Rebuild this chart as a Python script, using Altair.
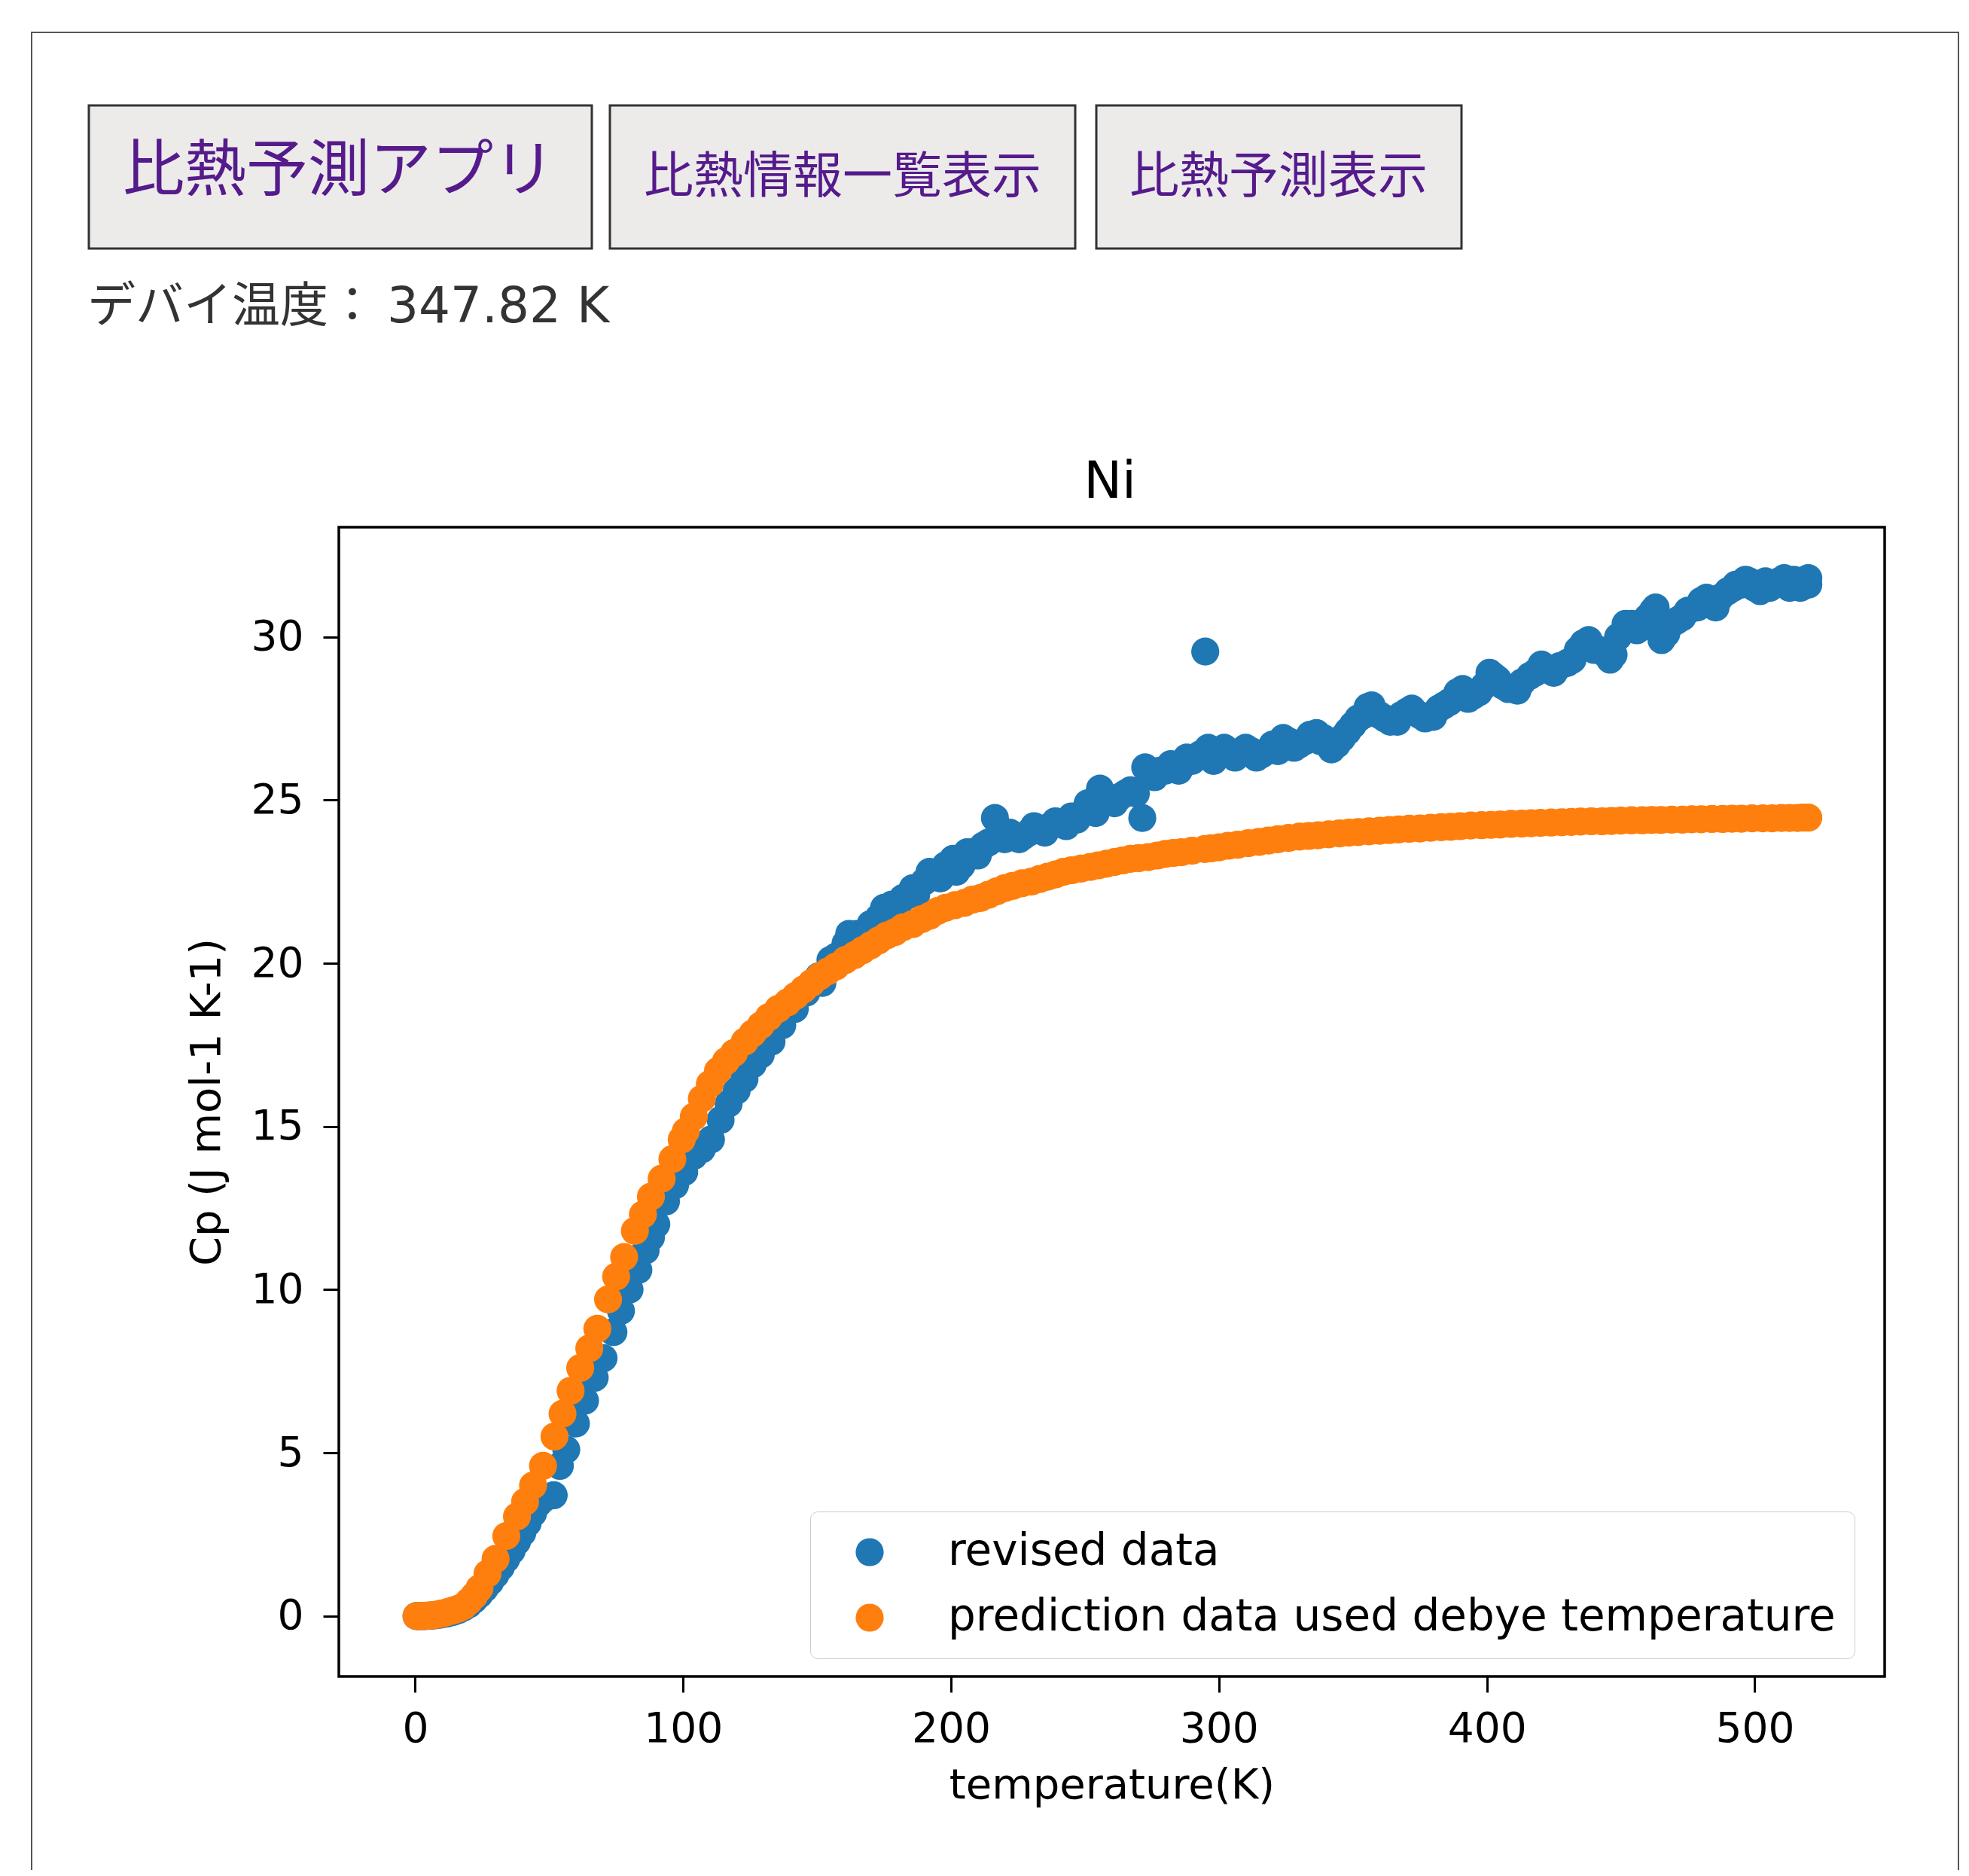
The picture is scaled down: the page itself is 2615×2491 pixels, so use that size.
import altair as alt
import pandas as pd

# ---------------- data ----------------
series_names = ["revised data", "prediction data used debye temperature"]
series_colors = ["#1f77b4", "#ff7f0e"]

revised_points = [
    (0.5, 0.0), (1, 0.0), (2, 0.0), (3, 0.0), (4, 0.0), (5, 0.01), (6, 0.01), (7, 0.02),
    (8, 0.03), (9, 0.04), (10, 0.05), (12, 0.08), (14, 0.12), (16, 0.18), (18, 0.26),
    (20, 0.36), (22, 0.5), (24, 0.66), (26, 0.85), (28, 1.05), (30, 1.27), (32, 1.5),
    (34, 1.75), (36, 2.0), (38, 2.28), (40, 2.55), (42, 2.85), (44, 3.15), (46, 3.45),
    (48, 3.6), (51.7, 3.7), (54, 4.6), (56.4, 5.1), (60, 5.9), (63.4, 6.6), (67, 7.3),
    (70.3, 7.9), (74, 8.7), (76.8, 9.35), (80, 10.0), (83.3, 10.6), (86, 11.2), (88, 11.6),
    (90, 12.0), (93.6, 12.7), (97, 13.2), (100.4, 13.6), (104, 14.1), (107, 14.3),
    (110.4, 14.6), (114, 15.2), (117, 15.7), (120, 16.1), (122.9, 16.45), (126, 16.9),
    (129, 17.2), (133, 17.6), (137, 18.1), (141.7, 18.6), (146, 19.1), (150.6, 19.6),
    (155, 20.1), (160.6, 20.6), (165, 20.9), (170, 21.2), (173, 21.4), (178, 21.8),
    (182, 22.0), (185.7, 22.3), (190, 22.5), (194, 22.7), (198, 23.0), (200.8, 23.2),
    (204, 23.0), (208, 23.4), (212, 23.6), (216.4, 24.45), (220, 23.8), (225.4, 23.8),
    (229, 24.0), (233, 24.1), (237, 24.2), (241, 24.3), (245, 24.5), (249, 24.6),
    (252, 24.8), (255.6, 25.35), (259, 25.0), (263, 25.1), (267, 25.3), (271.4, 24.45),
    (272.5, 26.0), (276, 25.7), (280, 25.9), (283, 26.0), (286, 26.07), (290, 26.2),
    (294.9, 29.55), (296, 26.6), (300, 26.5), (304, 26.4), (308.3, 26.5), (312, 26.5),
    (316, 26.4), (320, 26.7), (324, 26.9), (328, 26.6), (332, 26.8), (336.4, 27.05),
    (339, 26.9), (342, 26.55), (346, 26.9), (350, 27.3), (355.5, 27.85), (358, 27.7),
    (362, 27.5), (366.6, 27.4), (370, 27.7), (375, 27.6), (380, 27.55), (384, 27.9),
    (389, 28.3), (393, 28.1), (397, 28.3), (402.5, 28.8), (406, 28.5), (411.4, 28.35),
    (416, 28.8), (420.4, 29.15), (425, 28.9), (430, 29.2), (436, 29.8), (440, 29.6),
    (444, 29.5), (447.3, 29.45), (451.8, 30.4), (456, 30.2), (460, 30.6), (463, 30.9),
    (465.2, 29.9), (469, 30.4), (473, 30.6), (478.6, 30.9), (482, 31.2), (485.4, 30.9),
    (490, 31.4), (493, 31.6), (496.6, 31.75), (500, 31.5), (505.6, 31.5), (509, 31.7),
    (512, 31.6), (514.5, 31.75), (517, 31.5), (519, 31.75), (520, 31.6),
    # further readings of the scattered upper band
    (152, 19.4), (157, 20.2), (162, 20.9), (167, 20.8), (175, 21.7), (180, 21.7),
    (187, 22.1), (192, 22.8), (196, 22.6), (202, 22.8), (206, 23.4), (210, 23.3),
    (214, 23.7), (218, 23.9), (222, 24.0), (227, 23.9), (231, 24.2), (235, 24.0),
    (239, 24.35), (243, 24.2), (247, 24.4), (251, 24.9), (254, 24.6), (257, 25.1),
    (261, 24.9), (265, 25.2), (269, 25.2), (274, 25.8), (278, 25.9), (282, 26.1),
    (285, 25.9), (288, 26.3), (293, 26.4), (298, 26.2), (302, 26.6), (306, 26.3),
    (310, 26.6), (314, 26.3), (318, 26.5), (322, 26.5), (326, 26.8), (330, 26.7),
    (334, 27.0), (338, 26.8), (344, 26.7), (348, 27.1), (352, 27.5), (354, 27.6),
    (357, 27.9), (360, 27.6), (364, 27.4), (368, 27.6), (372, 27.8), (377, 27.5),
    (382, 27.8), (386, 28.0), (391, 28.4), (395, 28.2), (399, 28.5), (401, 28.9),
    (404, 28.7), (408, 28.4), (413, 28.6), (418, 28.9), (422, 29.0), (427, 29.1),
    (432, 29.3), (434, 29.6), (438, 29.9), (442, 29.6), (446, 29.3), (449, 30.0),
    (454, 30.4), (458, 30.3), (462, 30.8), (464, 30.3), (467, 30.1), (471, 30.5),
    (475, 30.8), (480, 31.1), (484, 31.0), (487, 31.2), (492, 31.5), (495, 31.6),
    (498, 31.7), (502, 31.4), (504, 31.7), (507, 31.6), (511, 31.8), (513, 31.5),
    (516, 31.7), (518, 31.6), (520, 31.8),
]

prediction_points = [
    (0.5, 0.0), (1, 0.0), (2, 0.0), (3, 0.0), (4, 0.01), (5, 0.01), (6, 0.02), (7, 0.03),
    (8, 0.04), (9, 0.06), (10, 0.08), (12, 0.12), (14, 0.17), (16, 0.22), (18, 0.3),
    (20, 0.45), (22, 0.62), (24, 0.85), (27, 1.3), (30, 1.75), (34, 2.45), (38, 3.05),
    (41, 3.5), (44, 4.0), (47.7, 4.6), (52, 5.5), (55, 6.2), (58, 6.9), (61.6, 7.6),
    (65, 8.2), (68, 8.8), (72, 9.7), (75, 10.4), (78, 11.0), (82, 11.8), (85, 12.3),
    (88, 12.85), (92, 13.4), (96, 14.0), (99.5, 14.6), (101, 14.85), (104, 15.3),
    (107, 15.85), (110, 16.3), (113, 16.7), (116, 17.0), (119, 17.25), (123, 17.6),
    (126, 17.85), (129, 18.1), (132, 18.35), (135.5, 18.6), (139, 18.8), (142, 19.0),
    (145, 19.2), (148, 19.4), (151, 19.6), (154, 19.75), (157, 19.9), (160.6, 20.1),
    (164, 20.25), (167, 20.4), (170, 20.55), (173, 20.7), (176, 20.85), (179, 20.95),
    (182, 21.1), (185.7, 21.2), (189, 21.35), (192, 21.45), (195, 21.6), (198, 21.7),
    (201.5, 21.78), (205, 21.85), (208, 21.95), (211, 22.0), (214, 22.1), (217, 22.2),
    (220, 22.3), (223, 22.37), (226.5, 22.45), (230, 22.5), (233, 22.58), (236, 22.65),
    (239, 22.72), (242, 22.8), (245, 22.85), (248.5, 22.9), (252, 22.95), (255, 23.0),
    (258, 23.05), (261, 23.1), (264, 23.15), (267, 23.2), (270, 23.22), (273.6, 23.25),
    (277, 23.3), (280, 23.35), (283, 23.38), (286, 23.4), (290, 23.45), (294.7, 23.5),
    (297, 23.52), (300, 23.55), (303.5, 23.6), (307, 23.63), (311, 23.68), (315, 23.72),
    (318.5, 23.76), (322, 23.8), (326, 23.84), (330, 23.88), (333.5, 23.9), (337, 23.92),
    (341, 23.95), (345, 23.98), (348.5, 24.0), (352, 24.02), (356, 24.04), (360, 24.06),
    (363.5, 24.08), (367, 24.1), (371, 24.12), (375, 24.13), (379, 24.15), (383, 24.17),
    (386.5, 24.18), (390, 24.2), (394, 24.22), (398, 24.23), (401.5, 24.24), (405, 24.25),
    (409, 24.27), (413, 24.28), (416.5, 24.29), (420, 24.3), (424, 24.31), (428, 24.32),
    (431.5, 24.33), (435, 24.34), (439, 24.35), (443, 24.35), (446.5, 24.36), (450, 24.37),
    (454, 24.38), (458, 24.38), (461.5, 24.39), (465, 24.39), (469, 24.4), (473, 24.4),
    (476.5, 24.41), (480, 24.41), (484, 24.42), (488, 24.42), (491.5, 24.43), (495, 24.43),
    (499, 24.44), (503, 24.44), (506.5, 24.44), (510, 24.45), (513, 24.45), (516, 24.45),
    (518, 24.46), (520, 24.46),
]

x_ticks = [0, 100, 200, 300, 400, 500]
y_ticks = [0, 5, 10, 15, 20, 25, 30]
button_labels = ["比熱予測アプリ", "比熱情報一覧表示", "比熱予測表示"]
debye_label_jp = "デバイ温度："
debye_label_value = "347.82 K"
chart_title = "Ni"
x_title = "temperature(K)"
y_title = "Cp (J mol-1 K-1)"

# ---------------- table ----------------
df = pd.concat([
    pd.DataFrame({"T": [p[0] for p in revised_points],
                  "Cp": [p[1] for p in revised_points],
                  "series": series_names[0]}),
    pd.DataFrame({"T": [p[0] for p in prediction_points],
                  "Cp": [p[1] for p in prediction_points],
                  "series": series_names[1]}),
], ignore_index=True)

one = pd.DataFrame({"k": [0]})

MPL_FONT = "DejaVu Sans"
JP_FONT = "Noto Sans CJK JP"
PURPLE = "#551A8B"


def box(x1, x2, y1, y2, fill, stroke, sw, fill_opacity=1):
    return alt.Chart(one).mark_rect(
        fill=fill, fillOpacity=fill_opacity, stroke=stroke, strokeWidth=sw
    ).encode(x=alt.value(x1), x2=alt.value(x2), y=alt.value(y1), y2=alt.value(y2))


def label(text, x, y, font, size, color, align="center", baseline="middle"):
    return alt.Chart(one).mark_text(
        text=text, font=font, fontSize=size, color=color, align=align, baseline=baseline
    ).encode(x=alt.value(x), y=alt.value(y))


outer = box(-408, 2151, -657, 1900, "white", "#555555", 2, fill_opacity=0)
b1 = box(-332, 336, -560, -370, "#ECEBEA", "#333333", 3)
b2 = box(360, 978, -560, -370, "#ECEBEA", "#333333", 3)
b3 = box(1006, 1491, -560, -370, "#ECEBEA", "#333333", 3)
t1 = label(button_labels[0], 0, -472, JP_FONT, 82, PURPLE)
t2 = label(button_labels[1], 669, -464, JP_FONT, 66, PURPLE)
t3 = label(button_labels[2], 1248, -464, JP_FONT, 66, PURPLE)
debye1 = label(debye_label_jp, -334, -292, JP_FONT, 64, "#333333", align="left")
debye2 = label(debye_label_value, 64, -292, MPL_FONT, 66, "#333333", align="left")
title = label(chart_title, 1024, -39, MPL_FONT, 68, "black", baseline="alphabetic")

points = alt.Chart(df).mark_circle(size=1385, opacity=1).encode(
    x=alt.X("T:Q",
            scale=alt.Scale(domain=[-28.5, 548.5], nice=False, zero=False),
            axis=alt.Axis(values=x_ticks, title=x_title, labelPadding=22, titlePadding=20)),
    y=alt.Y("Cp:Q",
            scale=alt.Scale(domain=[-1.85, 33.36], nice=False, zero=False),
            axis=alt.Axis(values=y_ticks, title=y_title, labelPadding=26, titlePadding=30)),
    color=alt.Color(
        "series:N",
        scale=alt.Scale(domain=series_names, range=series_colors),
        legend=alt.Legend(
            title=None, orient="none", legendX=626, legendY=1307,
            symbolType="circle", symbolSize=1385, symbolStrokeWidth=0, symbolOpacity=1,
            labelFont=MPL_FONT, labelFontSize=58, labelColor="black", labelLimit=3000,
            labelOffset=75, symbolOffset=25, padding=25, rowPadding=29,
            strokeColor="#cccccc", fillColor="rgba(255,255,255,0.8)", cornerRadius=10,
        ),
    ),
)

chart = alt.layer(outer, b1, b2, b3, t1, t2, t3, debye1, debye2, title, points).properties(
    width=2053,
    height=1526,
    padding={"left": 442, "top": 692, "right": 104, "bottom": 257},
    autosize=alt.AutoSizeParams(type="none"),
    background="white",
).configure_view(
    stroke="black", strokeWidth=3.5
).configure_axis(
    domain=False, grid=False,
    labelFont=MPL_FONT, labelFontSize=55, labelColor="black",
    tickColor="black", tickSize=21, tickWidth=3,
    titleFont=MPL_FONT, titleFontSize=56, titleFontWeight="normal", titleColor="black",
)

chart.save("out.html", embed_options={"renderer": "svg", "actions": False})
